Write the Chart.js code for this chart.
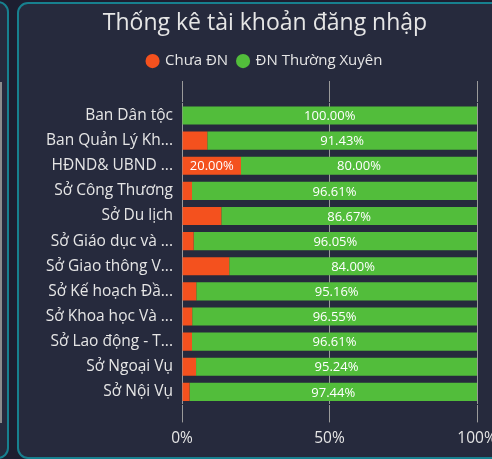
<!DOCTYPE html>
<html>
<head>
<meta charset="utf-8">
<script src="https://cdn.jsdelivr.net/npm/chart.js@4.4.0/dist/chart.umd.min.js"></script>
<style>
  html, body { margin: 0; padding: 0; width: 492px; height: 459px; overflow: hidden; background: #1d1e30; }
  .panel { position: absolute; background: #262a3d; border: 2px solid #17808f; border-radius: 11px; box-sizing: border-box; }
  #left { left: -200px; top: 1px; width: 209px; height: 458px; }
  #leftline { position: absolute; left: 0px; top: 82px; width: 2px; height: 341px; background: #8c8c8c; }
  #main { left: 17px; top: 2px; width: 520px; height: 457px; }
  #wrap { position: absolute; left: 20px; top: 4px; width: 490px; height: 451px; }
</style>
</head>
<body>
<div class="panel" id="left"></div>
<div id="leftline"></div>
<div class="panel" id="main"></div>
<div id="wrap"><canvas id="TK"></canvas></div>
<script>
var labels = ["Ban Dân tộc", "Ban Quản Lý Kh...", "HĐND& UBND ...", "Sở Công Thương", "Sở Du lịch", "Sở Giáo dục và ...",
    "Sở Giao thông V...", "Sở Kế hoạch Đầ...", "Sở Khoa học Và ...", "Sở Lao động - T...", "Sở Ngoại Vụ", "Sở Nội Vụ"];
var chuaDN = [0, 8.57, 20.00, 3.39, 13.33, 3.95, 16.00, 4.84, 3.45, 3.39, 4.76, 2.56];
var thuongXuyen = [100.00, 91.43, 80.00, 96.61, 86.67, 96.05, 84.00, 95.16, 96.55, 96.61, 95.24, 97.44];
var xTicks = [0, 50, 100];

var colors = ["#f4511e", "#52bd3b"];
var txt = "#e6e6e6";
var grid = "#9a9a9a";
var fnt = "'Open Sans', 'Noto Sans', sans-serif";

// draw % inside the bars (no datalabels plugin offline)
var barText = {
    id: 'barText',
    afterDatasetsDraw: function (chart) {
        var ctx = chart.ctx;
        ctx.save();
        ctx.font = "13px " + fnt;
        ctx.fillStyle = "#ffffff";
        ctx.textAlign = "center";
        ctx.textBaseline = "middle";
        chart.data.datasets.forEach(function (ds, i) {
            var meta = chart.getDatasetMeta(i);
            meta.data.forEach(function (bar, j) {
                var v = ds.data[j];
                if (v < 18) { return; }
                ctx.fillText(v.toFixed(2) + "%", (bar.x + bar.base) / 2, bar.y + 1);
            });
        });
        ctx.restore();
    }
};

function setTicks(s) {
    s.ticks = xTicks.map(function (v) { return { value: v }; });
}

function chartTK(name) {
    var ctx = document.getElementById(name).getContext('2d');
    var myChart = new Chart(ctx, {
        type: 'bar',
        data: {
            labels: labels,
            datasets: [{
                label: 'Chưa ĐN',
                data: chuaDN,
                backgroundColor: colors[0],
                borderWidth: 0
            }, {
                label: 'ĐN Thường Xuyên',
                data: thuongXuyen,
                backgroundColor: colors[1],
                borderWidth: 0
            }]
        },
        plugins: [barText],
        options: {
            indexAxis: 'y',
            responsive: true,
            maintainAspectRatio: false,
            animation: false,
            layout: { padding: { left: 0, right: 0, top: 6, bottom: 0 } },
            plugins: {
                title: {
                    display: true,
                    text: 'Thống kê tài khoản đăng nhập',
                    color: txt,
                    font: { family: fnt, size: 23, weight: 'normal' },
                    padding: { top: 0, bottom: 6 }
                },
                legend: {
                    display: true,
                    position: 'top',
                    labels: {
                        color: txt,
                        font: { family: fnt, size: 15 },
                        usePointStyle: true,
                        pointStyle: 'circle',
                        boxWidth: 10,
                        boxHeight: 10,
                        padding: 10
                    }
                },
                tooltip: { enabled: false }
            },
            scales: {
                x: {
                    stacked: true,
                    min: 0,
                    max: 100,
                    afterBuildTicks: setTicks,
                    afterFit: function (s) { s.paddingRight = 33; },
                    ticks: {
                        color: txt,
                        font: { family: fnt, size: 15.5 },
                        padding: 7,
                        callback: function (v) { return v + '%'; }
                    },
                    grid: { color: grid, tickLength: 18 },
                    border: { display: true, color: 'transparent' }
                },
                // top copy of the x axis, only for the grid ticks above the bars
                x2: {
                    position: 'top',
                    min: 0,
                    max: 100,
                    afterBuildTicks: setTicks,
                    afterFit: function (s) { s.paddingRight = 33; },
                    ticks: {
                        font: { size: 2 },
                        padding: 0,
                        callback: function () { return ''; }
                    },
                    grid: { color: grid, tickLength: 21.9, drawOnChartArea: false },
                    border: { display: true, color: 'transparent' }
                },
                y: {
                    stacked: true,
                    afterFit: function (s) { s.width = 162; },
                    ticks: {
                        color: txt,
                        font: { family: fnt, size: 15.5 },
                        padding: 9
                    },
                    grid: { display: false, drawTicks: false },
                    border: { display: false }
                }
            }
        }
    });
}

chartTK("TK");
</script>
</body>
</html>
